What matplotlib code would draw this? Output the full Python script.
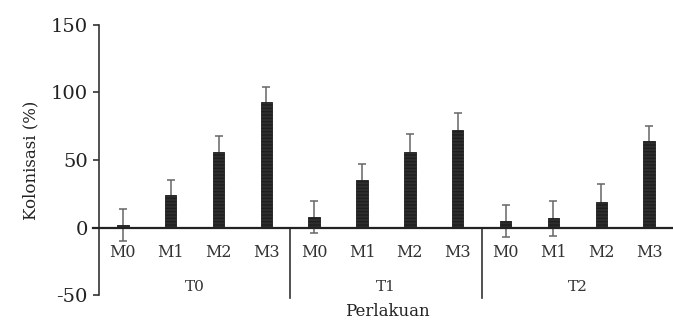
import matplotlib
matplotlib.use("Agg")
import matplotlib.pyplot as plt
import numpy as np

plt.rcParams['font.family'] = ['DejaVu Serif']
plt.rcParams['hatch.color'] = '#d0d0d0'
plt.rcParams['hatch.linewidth'] = 1.0

groups = ['T0', 'T1', 'T2']
subcats = ['M0', 'M1', 'M2', 'M3']
values = [2, 24, 56, 93,
          8, 35, 56, 72,
          5, 7, 19, 64]
errors = [12, 11, 11.5, 11,
          12, 12, 13, 13,
          12, 13, 13, 11]
yticks = [-50, 0, 50, 100, 150]

fig = plt.figure(figsize=(6.73, 3.2), dpi=100)
ax = fig.add_axes([0.147, 0.078, 0.853, 0.844])

x = np.arange(len(values))
ax.errorbar(x, values, yerr=errors, fmt='none', ecolor='#666666',
            elinewidth=1.1, capsize=3.2, capthick=1.1, zorder=2)
ax.bar(x, values, width=0.24, color='#2e2e2e', edgecolor='#1e1e1e',
       linewidth=0.6, hatch='-----', zorder=5)

ax.set_xlim(-0.5, len(values) - 0.5)
ax.set_ylim(-50, 150)
ax.set_yticks(yticks)
ax.set_yticklabels([str(t) for t in yticks], fontsize=14, color='#222222')
ax.tick_params(axis='y', direction='out', length=4, width=1.2, pad=4,
               color='#333333')
ax.set_xticks([])
for s in ['top', 'right', 'bottom']:
    ax.spines[s].set_visible(False)
ax.spines['left'].set_linewidth(1.2)
ax.spines['left'].set_color('#333333')

# zero line
ax.plot([-0.62, len(values) - 0.5], [0, 0], color='#222222', lw=1.6,
        clip_on=False, zorder=6)

# category labels
for i, lab in enumerate(subcats * len(groups)):
    ax.text(i, -18.5, lab, ha='center', va='center', fontsize=11.5,
            color='#333333')
for g, gl in enumerate(groups):
    ax.text(g * 4 + 1.5, -44, gl, ha='center', va='center', fontsize=11,
            color='#333333')
for sep in [3.5, 7.5]:
    ax.plot([sep, sep], [0, -52], color='#333333', lw=1.2, clip_on=False)

ax.set_ylabel('Kolonisasi (%)', fontsize=12, labelpad=8, color='#222222')
fig.text(0.576, 0.027, 'Perlakuan', ha='center', va='center', fontsize=12,
         color='#222222')

fig.savefig('out.png', dpi=100)
